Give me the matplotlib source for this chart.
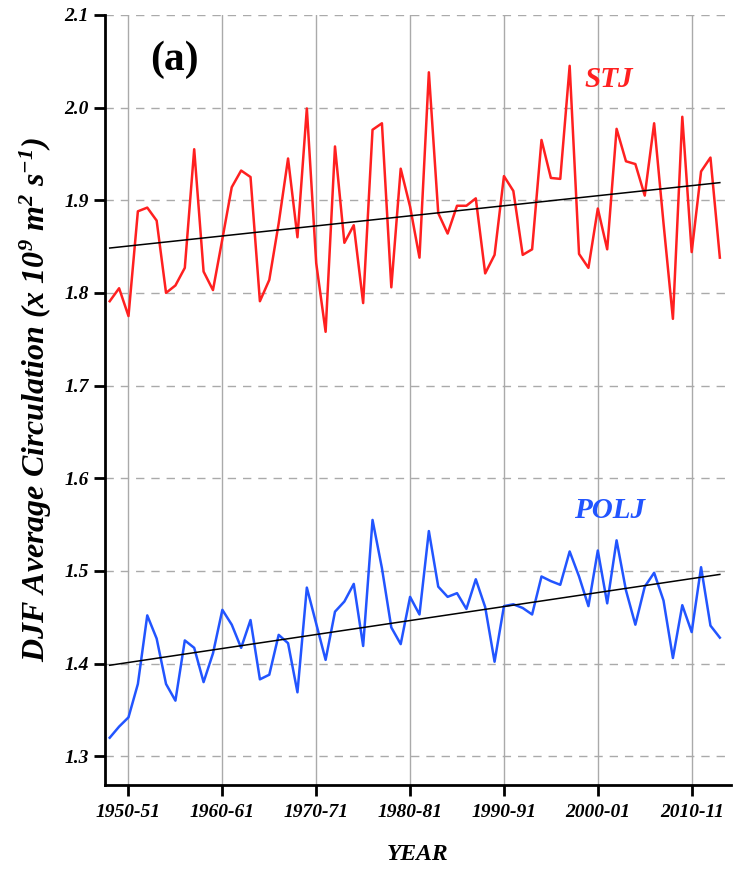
import numpy as np
import matplotlib
matplotlib.use("Agg")
import matplotlib.pyplot as plt

years = list(range(1948, 2014))

stj = [1.791, 1.805, 1.775, 1.888, 1.892, 1.878, 1.800, 1.808, 1.827, 1.955,
       1.823, 1.803, 1.858, 1.914, 1.932, 1.925, 1.791, 1.814, 1.875, 1.945,
       1.860, 1.999, 1.832, 1.758, 1.958, 1.854, 1.873, 1.789, 1.976, 1.983,
       1.806, 1.934, 1.893, 1.838, 2.038, 1.886, 1.864, 1.894, 1.894, 1.902,
       1.821, 1.841, 1.926, 1.910, 1.841, 1.847, 1.965, 1.924, 1.923, 2.045,
       1.842, 1.827, 1.891, 1.847, 1.977, 1.942, 1.939, 1.905, 1.983, 1.875,
       1.772, 1.990, 1.844, 1.931, 1.946, 1.838]

polj = [1.320, 1.332, 1.342, 1.378, 1.452, 1.427, 1.378, 1.360, 1.425, 1.417,
        1.380, 1.411, 1.458, 1.442, 1.417, 1.447, 1.383, 1.388, 1.431, 1.422,
        1.369, 1.482, 1.443, 1.404, 1.456, 1.467, 1.486, 1.419, 1.555, 1.503,
        1.439, 1.421, 1.472, 1.453, 1.543, 1.483, 1.472, 1.476, 1.459, 1.491,
        1.461, 1.402, 1.462, 1.464, 1.460, 1.453, 1.494, 1.489, 1.485, 1.521,
        1.494, 1.462, 1.522, 1.465, 1.533, 1.479, 1.442, 1.483, 1.498, 1.468,
        1.406, 1.463, 1.434, 1.504, 1.441, 1.428]

tick_years = [1950, 1960, 1970, 1980, 1990, 2000, 2010]
tick_labels = ['1950-51', '1960-61', '1970-71', '1980-81', '1990-91', '2000-01', '2010-11']
y_ticks = [1.3, 1.4, 1.5, 1.6, 1.7, 1.8, 1.9, 2.0, 2.1]

serif = 'Liberation Serif'
plt.rcParams['mathtext.fontset'] = 'custom'
plt.rcParams['mathtext.rm'] = 'Liberation Serif:bold:italic'
plt.rcParams['mathtext.it'] = 'Liberation Serif:bold:italic'
plt.rcParams['mathtext.bf'] = 'Liberation Serif:bold:italic'

fig = plt.figure(figsize=(7.37, 8.73), dpi=100)
ax = fig.add_axes([0.1425, 0.1008, 0.8495, 0.8822])

x = np.array(years)
ax.plot(x, stj, color='#ff2020', lw=1.8, zorder=3)
ax.plot(x, polj, color='#2255ff', lw=1.8, zorder=3)

# linear trends
for series in (stj, polj):
    p = np.polyfit(x, series, 1)
    ax.plot(x, np.polyval(p, x), color='black', lw=1.1, zorder=4)

ax.set_xlim(1947.5, 2014.2)
ax.set_ylim(1.269, 2.1)
ax.set_xticks(tick_years)
ax.set_xticklabels(tick_labels)
ax.set_yticks(y_ticks)
ax.set_yticklabels(['%.1f' % v for v in y_ticks])

for lab in ax.get_xticklabels() + ax.get_yticklabels():
    lab.set_family(serif)
    lab.set_fontweight('bold')
    lab.set_fontstyle('italic')
    lab.set_fontsize(14)

ax.xaxis.grid(True, color='#aaaaaa', lw=1.0, ls='-')
ax.yaxis.grid(True, color='#aaaaaa', lw=1.0, ls=(0, (6, 5)))
ax.set_axisbelow(True)

for s in ['top', 'right']:
    ax.spines[s].set_visible(False)
for s in ['left', 'bottom']:
    ax.spines[s].set_linewidth(2)
ax.tick_params(axis='both', width=2, length=8, direction='out')
ax.tick_params(axis='x', pad=6)

ax.set_xlabel('YEAR', family=serif, fontweight='bold', fontstyle='italic',
              fontsize=17, labelpad=16)
ax.set_ylabel(r'DJF Average Circulation (x 10$^{9}$ m$^{2}$ s$^{-1}$)',
              family=serif, fontweight='bold', fontstyle='italic', fontsize=23,
              labelpad=8)

ax.text(1954.9, 2.052, '(a)', family=serif, fontweight='bold', fontsize=30,
        ha='center', va='center')
ax.text(2001.2, 2.030, 'STJ', family=serif, fontweight='bold', fontstyle='italic',
        fontsize=21, color='#ff2020', ha='center', va='center')
ax.text(2001.3, 1.565, 'POLJ', family=serif, fontweight='bold', fontstyle='italic',
        fontsize=21, color='#2255ff', ha='center', va='center')

fig.savefig('out.png', dpi=100)
